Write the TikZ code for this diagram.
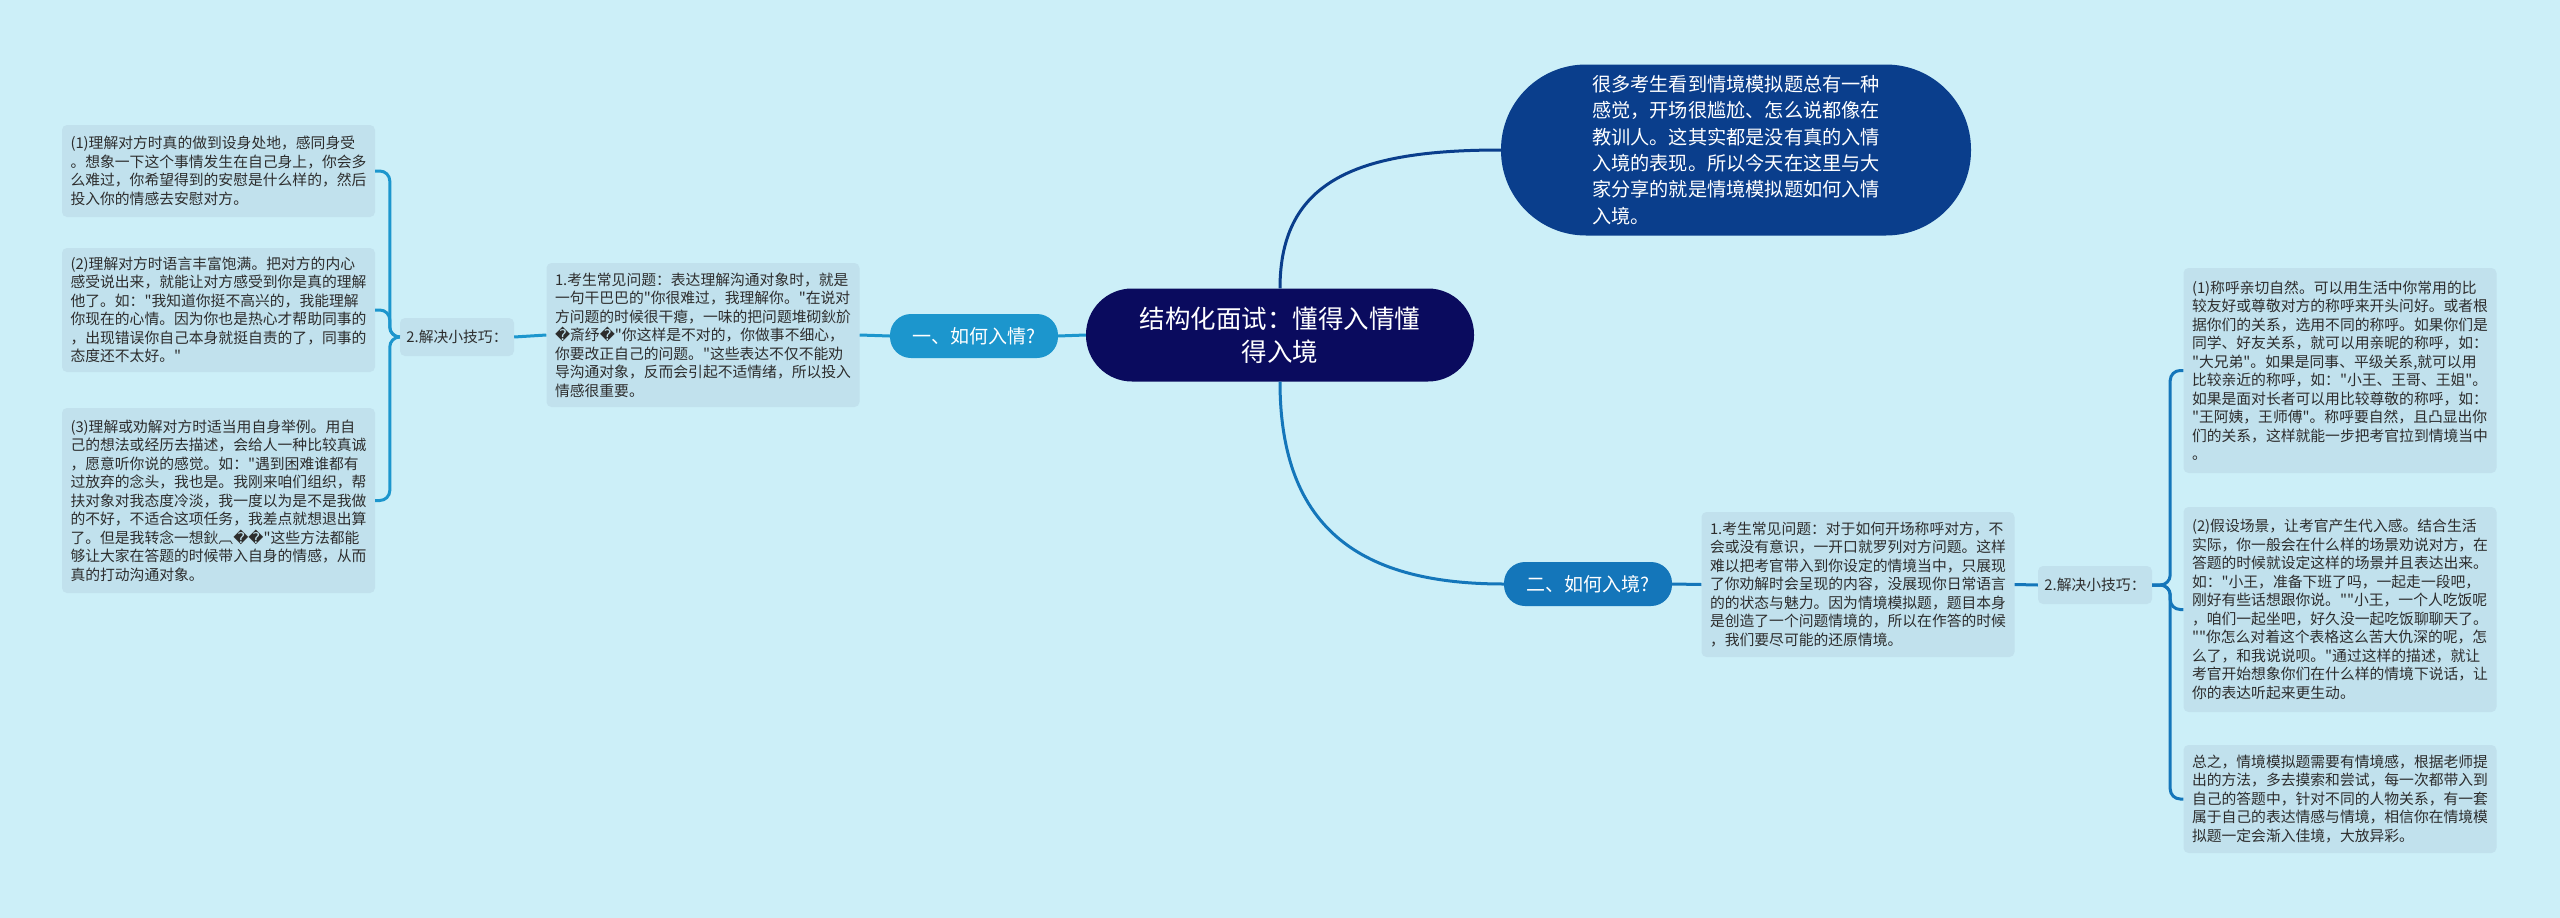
\documentclass[tikz,border=0pt]{standalone}
\usepackage{fontspec}
\setmainfont{Noto Sans CJK SC}[Ligatures=TeXOff]
\newfontfamily\dvfont{DejaVu Sans}
\newcommand{\rp}{{\dvfont\symbol{"FFFD}}}
\definecolor{bgc}{RGB}{204,239,248}
\definecolor{boxc}{RGB}{193,225,237}
\definecolor{txt}{RGB}{45,45,45}
\definecolor{navy}{RGB}{10,11,94}
\definecolor{topblue}{RGB}{10,62,140}
\definecolor{lblue}{RGB}{28,150,205}
\definecolor{rblue}{RGB}{20,118,186}
\begin{document}
\begin{tikzpicture}[x=1pt,y=-1pt,
  leaf/.style={fill=boxc, rounded corners=5, font=\fontsize{14.8}{18.5}\selectfont, text=txt, align=left, inner xsep=8, inner ysep=6, minimum width=313},
  tip/.style={fill=boxc, rounded corners=5, font=\fontsize{14.8}{18.5}\selectfont, text=txt, minimum width=114, minimum height=38},
  branch/.style={rounded corners=21, text=white, font=\fontsize{19}{22}\selectfont, minimum width=168, minimum height=44},
  conL/.style={draw=lblue, line width=3},
  conR/.style={draw=rblue, line width=3}
]
\useasboundingbox (0,0) rectangle (2560,918);
\fill[bgc] (0,0) rectangle (2560,918);

% center
\node[fill=navy, rounded corners=46, text=white, align=center, font=\fontsize{25.5}{33}\selectfont, minimum width=388, minimum height=93] (c) at (1280,335) {结构化面试：懂得入情懂\\得入境};

% top bubble
\node[fill=topblue, rounded corners=85, text=white, align=left, font=\fontsize{19.2}{26.4}\selectfont, minimum width=470, minimum height=171] (b) at (1736,150) {很多考生看到情境模拟题总有一种\\感觉，开场很尴尬、怎么说都像在\\教训人。这其实都是没有真的入情\\入境的表现。所以今天在这里与大\\家分享的就是情境模拟题如何入情\\入境。};

% branches
\node[branch, fill=lblue] (n1) at (974,336) {一、如何入情?};
\node[branch, fill=rblue] (n2) at (1588,584) {二、如何入境?};

% left side
\node[leaf, minimum height=144] (ml) at (703,335) {1.考生常见问题：表达理解沟通对象时，就是\\一句干巴巴的"你很难过，我理解你。"在说对\\方问题的时候很干瘪，一味的把问题堆砌鈥斺\\\rp 斎纾\rp "你这样是不对的，你做事不细心，\\你要改正自己的问题。"这些表达不仅不能劝\\导沟通对象，反而会引起不适情绪，所以投入\\情感很重要。};
\node[tip] (tl) at (457,337) {2.解决小技巧：};
\node[leaf, minimum height=92] (l1) at (218.5,171) {(1)理解对方时真的做到设身处地，感同身受\\。想象一下这个事情发生在自己身上，你会多\\么难过，你希望得到的安慰是什么样的，然后\\投入你的情感去安慰对方。};
\node[leaf, minimum height=124] (l2) at (218.5,310) {(2)理解对方时语言丰富饱满。把对方的内心\\感受说出来，就能让对方感受到你是真的理解\\他了。如："我知道你挺不高兴的，我能理解\\你现在的心情。因为你也是热心才帮助同事的\\，出现错误你自己本身就挺自责的了，同事的\\态度还不太好。"};
\node[leaf, minimum height=185] (l3) at (218.5,500.5) {(3)理解或劝解对方时适当用自身举例。用自\\己的想法或经历去描述，会给人一种比较真诚\\，愿意听你说的感觉。如："遇到困难谁都有\\过放弃的念头，我也是。我刚来咱们组织，帮\\扶对象对我态度冷淡，我一度以为是不是我做\\的不好，不适合这项任务，我差点就想退出算\\了。但是我转念一想鈥︹\rp\rp "这些方法都能\\够让大家在答题的时候带入自身的情感，从而\\真的打动沟通对象。};

% right side
\node[leaf, minimum height=145] (mr) at (1858,584.5) {1.考生常见问题：对于如何开场称呼对方，不\\会或没有意识，一开口就罗列对方问题。这样\\难以把考官带入到你设定的情境当中，只展现\\了你劝解时会呈现的内容，没展现你日常语言\\的的状态与魅力。因为情境模拟题，题目本身\\是创造了一个问题情境的，所以在作答的时候\\，我们要尽可能的还原情境。};
\node[tip] (tr) at (2095,585) {2.解决小技巧：};
\node[leaf, minimum height=205] (r1) at (2340,370.5) {(1)称呼亲切自然。可以用生活中你常用的比\\较友好或尊敬对方的称呼来开头问好。或者根\\据你们的关系，选用不同的称呼。如果你们是\\同学、好友关系，就可以用亲昵的称呼，如：\\"大兄弟"。如果是同事、平级关系,就可以用\\比较亲近的称呼，如："小王、王哥、王姐"。\\如果是面对长者可以用比较尊敬的称呼，如：\\"王阿姨，王师傅"。称呼要自然，且凸显出你\\们的关系，这样就能一步把考官拉到情境当中\\。};
\node[leaf, minimum height=205] (r2) at (2340,609.5) {(2)假设场景，让考官产生代入感。结合生活\\实际，你一般会在什么样的场景劝说对方，在\\答题的时候就设定这样的场景并且表达出来。\\如："小王，准备下班了吗，一起走一段吧，\\刚好有些话想跟你说。""小王，一个人吃饭呢\\，咱们一起坐吧，好久没一起吃饭聊聊天了。\\""你怎么对着这个表格这么苦大仇深的呢，怎\\么了，和我说说呗。"通过这样的描述，就让\\考官开始想象你们在什么样的情境下说话，让\\你的表达听起来更生动。};
\node[leaf, minimum height=108] (r3) at (2340,799) {总之，情境模拟题需要有情境感，根据老师提\\出的方法，多去摸索和尝试，每一次都带入到\\自己的答题中，针对不同的人物关系，有一套\\属于自己的表达情感与情境，相信你在情境模\\拟题一定会渐入佳境，大放异彩。};

% connectors
\draw[draw=topblue, line width=3] (c.north) .. controls +(0,-110) and +(-140,0) .. (b.west);
\draw[conR] (c.south) .. controls +(0,150) and +(-140,0) .. (n2.west);
\draw[conL] (c.west) -- (n1.east);
\draw[conL] (n1.west) -- (ml.east);
\draw[conL] (ml.west) -- (tl.east);
\foreach \t in {l1,l2,l3}
  \draw[conL, rounded corners=10] (tl.west) -- ++(-10,0) |- (\t.east);
\draw[conR] (n2.east) -- (mr.west);
\draw[conR] (mr.east) -- (tr.west);
\foreach \t in {r1,r2,r3}
  \draw[conR, rounded corners=10] (tr.east) -- ++(18,0) |- (\t.west);
\end{tikzpicture}
\end{document}
